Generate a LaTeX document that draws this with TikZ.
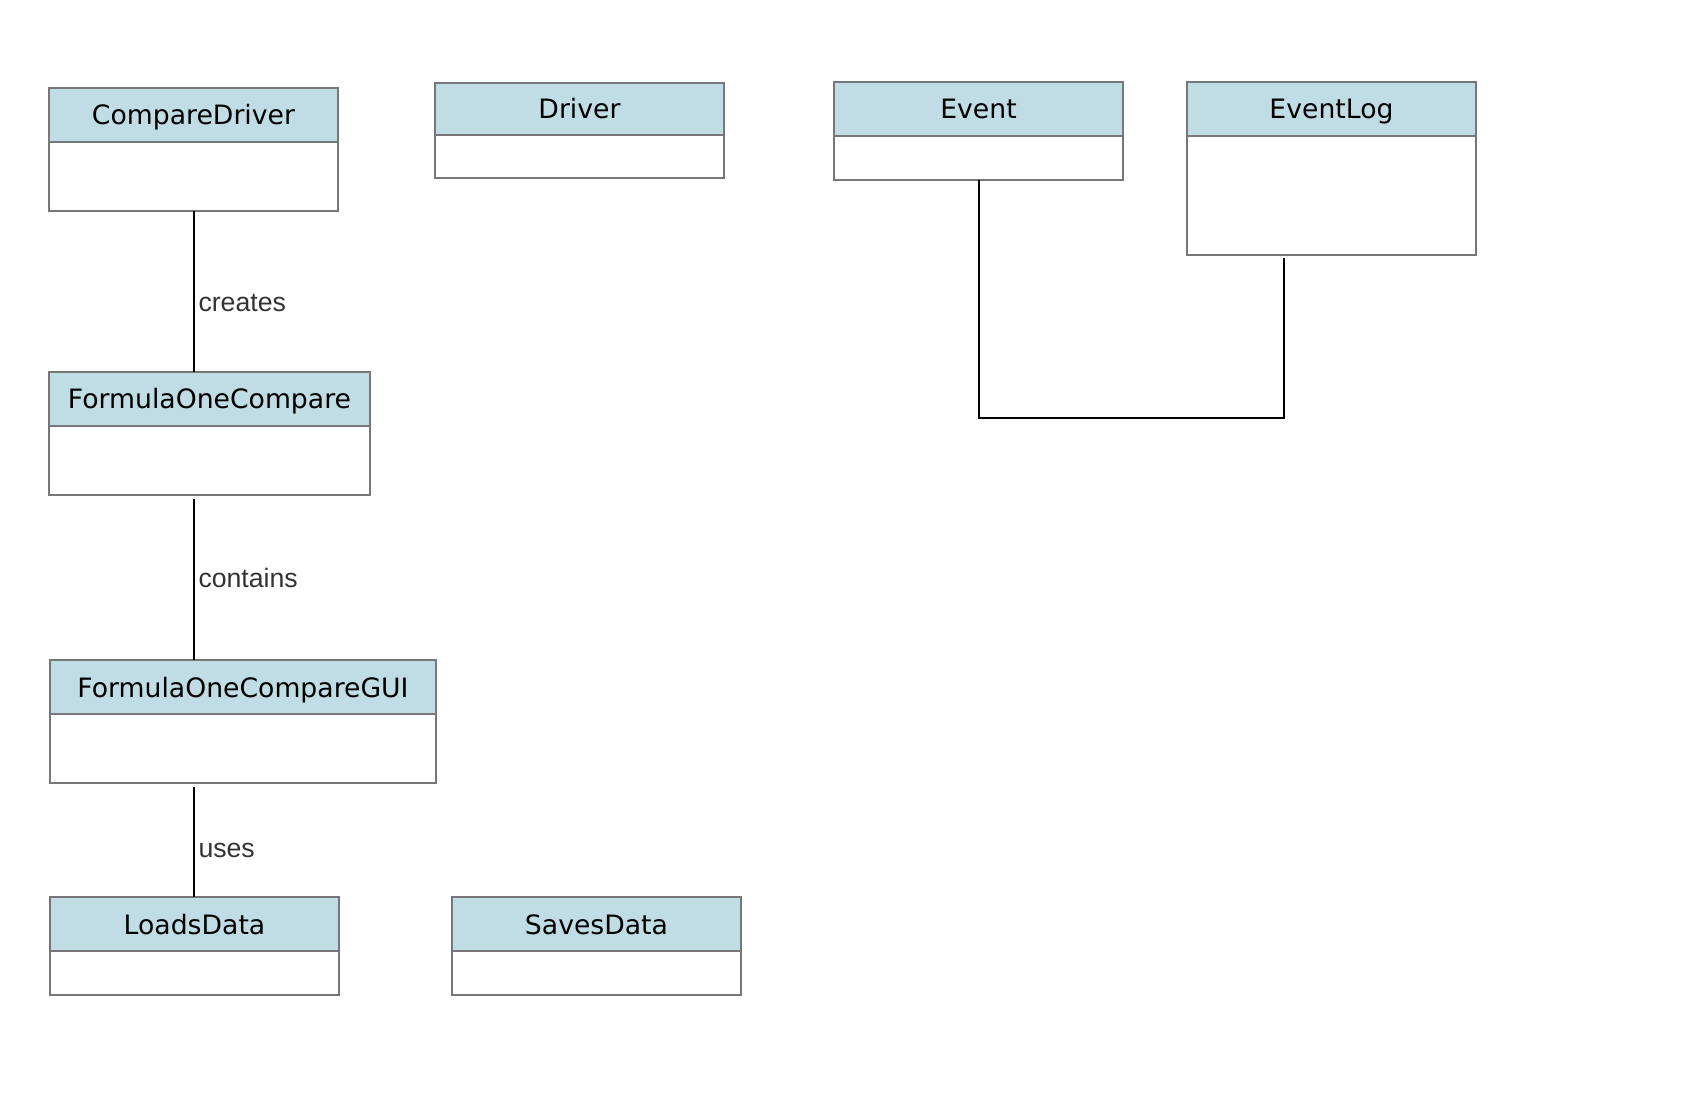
\documentclass[tikz,border=0pt]{standalone}
\usepackage{fontspec}
\setmainfont{DejaVu Sans}
\newfontfamily\labelfont{Liberation Sans}
\usepackage{xcolor}
\usepackage{tikz}
\usetikzlibrary{positioning}

\definecolor{headblue}{HTML}{C0DCE4}
\definecolor{boxgray}{HTML}{777777}
\definecolor{labelgray}{HTML}{333333}

\begin{document}
\begin{tikzpicture}[x=0.75pt, y=-0.75pt, font=\fontsize{20}{24}\selectfont]
		\tikzstyle{head} = [draw=boxgray, fill=headblue, line width=1.5pt, rectangle, anchor=north west, inner sep=0pt, outer sep=0pt, minimum height=40.5pt, text height=16pt, text depth=1pt]
		\tikzstyle{body} = [draw=boxgray, fill=white, line width=1.5pt, rectangle, inner sep=0pt, outer sep=0pt]
		\tikzstyle{link} = [line width=1.5pt, black]
		\tikzstyle{lbl} = [anchor=west, inner sep=0pt, xshift=3pt, text=labelgray, font=\labelfont\fontsize{20}{24}\selectfont]
		
		\useasboundingbox (0, 0) rectangle (1686, 1112);
		
		\node[head, minimum width=216.75pt]	at (49, 88) 	(cdhead) 	{CompareDriver};
		\node[body, below=0pt of cdhead, minimum width=216.75pt, minimum height=51.75pt] (cdbody) {};
		
		\node[head, minimum width=216.75pt, minimum height=39pt]	at (435, 83) 	(drhead) 	{Driver};
		\node[body, below=0pt of drhead, minimum width=216.75pt, minimum height=32.25pt] (drbody) {};
		
		\node[head, minimum width=216.75pt]	at (834, 82) 	(evhead) 	{Event};
		\node[body, below=0pt of evhead, minimum width=216.75pt, minimum height=33pt] (evbody) {};
		
		\node[head, minimum width=216.75pt]	at (1187, 82) 	(loghead) 	{EventLog};
		\node[body, below=0pt of loghead, minimum width=216.75pt, minimum height=89.25pt] (logbody) {};
		
		\node[head, minimum width=240.75pt]	at (49, 372) 	(fohead) 	{FormulaOneCompare};
		\node[body, below=0pt of fohead, minimum width=240.75pt, minimum height=51.75pt] (fobody) {};
		
		\node[head, minimum width=289.5pt]	at (50, 660) 	(guihead) 	{FormulaOneCompareGUI};
		\node[body, below=0pt of guihead, minimum width=289.5pt, minimum height=51.75pt] (guibody) {};
		
		\node[head, minimum width=216.75pt]	at (50, 897) 	(ldhead) 	{LoadsData};
		\node[body, below=0pt of ldhead, minimum width=216.75pt, minimum height=33pt] (ldbody) {};
		
		\node[head, minimum width=216.75pt]	at (452, 897) 	(svhead) 	{SavesData};
		\node[body, below=0pt of svhead, minimum width=216.75pt, minimum height=33pt] (svbody) {};
		
		\draw [link] (cdbody.south) -- node[lbl, pos=0.57] {creates} (cdbody.south |- fohead.north);
		\draw [link] ([yshift=-3pt]fobody.south -| cdbody.south) -- node[lbl, pos=0.49] {contains} (cdbody.south |- guihead.north);
		\draw [link] ([yshift=-3pt]guibody.south -| cdbody.south) -- node[lbl, pos=0.58] {uses} (cdbody.south |- ldhead.north);
		
		\draw [link] (evbody.south) -- ++(0, 238) -| ([xshift=-36pt, yshift=-2pt]logbody.south);
	\end{tikzpicture}
\end{document}
